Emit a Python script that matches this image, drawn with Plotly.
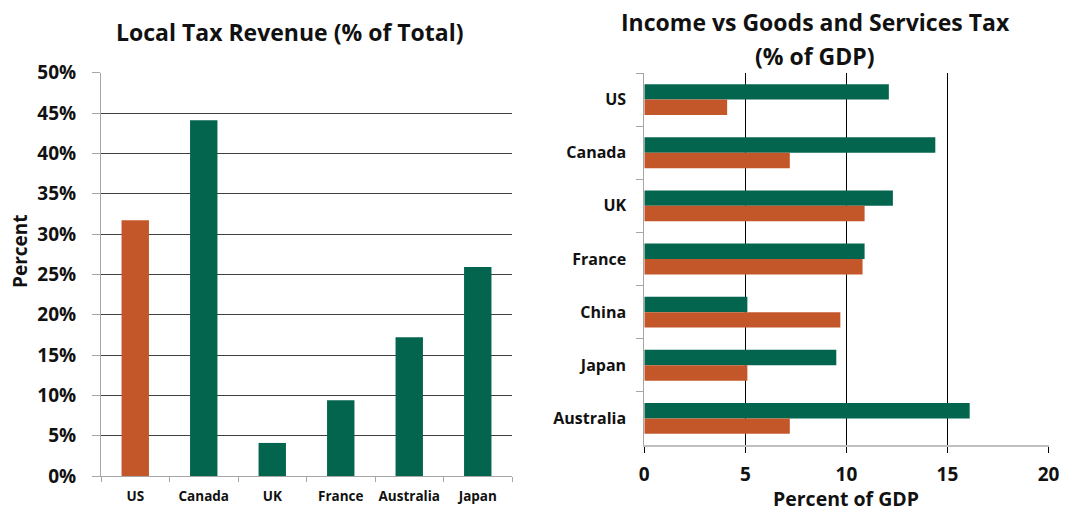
import plotly.graph_objects as go

# Local tax revenue as a share of total tax revenue
local_countries = ["US", "Canada", "UK", "France", "Australia", "Japan"]
local_share = [31.7, 44.1, 4.1, 9.4, 17.2, 25.9]

# Income vs goods and services tax, % of GDP
tax_countries = ["US", "Canada", "UK", "France", "China", "Japan", "Australia"]
income_tax = [12.1, 14.4, 12.3, 10.9, 5.1, 9.5, 16.1]
goods_services_tax = [4.1, 7.2, 10.9, 10.8, 9.7, 5.1, 7.2]

left_ticks = [0, 5, 10, 15, 20, 25, 30, 35, 40, 45, 50]
left_tick_text = [f"{v}%" for v in left_ticks]
right_ticks = [0, 5, 10, 15, 20]

GREEN = "#04654F"
ORANGE = "#C4572A"
FONT = "Open Sans"
INK = "#111111"
W, H = 1065, 510

fig = go.Figure()

fig.add_trace(go.Bar(
    x=local_countries, y=local_share,
    marker=dict(color=[ORANGE if c == "US" else GREEN for c in local_countries], line_width=0),
    width=0.4, xaxis="x", yaxis="y", showlegend=False,
))

fig.add_trace(go.Bar(
    y=tax_countries, x=income_tax, orientation="h",
    marker=dict(color=GREEN, line_width=0),
    width=0.29, offset=-0.29, xaxis="x2", yaxis="y2", showlegend=False,
))
fig.add_trace(go.Bar(
    y=tax_countries, x=goods_services_tax, orientation="h",
    marker=dict(color=ORANGE, line_width=0),
    width=0.29, offset=0.0, xaxis="x2", yaxis="y2", showlegend=False,
))

def px_x(a, b):
    return [a / W, b / W]

def px_y(top, bottom):
    return [(H - bottom) / H, (H - top) / H]

bold = dict(family=FONT, weight="bold", color=INK)


def label(text, x, y, size, **kw):
    return dict(text=f"<b>{text}</b>", x=x / W, y=(H - y) / H,
                xref="paper", yref="paper", showarrow=False,
                xanchor="center", yanchor=kw.pop("yanchor", "middle"),
                font=dict(size=size, family=FONT, color=INK), **kw)


fig.update_layout(
    width=W, height=H,
    margin=dict(l=0, r=0, t=0, b=0, autoexpand=False),
    paper_bgcolor="white", plot_bgcolor="white",
    barmode="overlay",
    font=dict(family=FONT, color=INK),
    xaxis=dict(
        domain=px_x(101, 512), type="category", automargin=False,
        showline=True, linecolor="#a6a6a6", linewidth=1,
        ticks="outside", tickson="boundaries", ticklen=5, tickcolor="#a6a6a6",
        tickfont=dict(size=13.5, **bold), tickangle=0,
        ticklabelstandoff=8,
        showgrid=False, fixedrange=True,
    ),
    yaxis=dict(
        domain=px_y(72.7, 476), range=[0, 50], automargin=False,
        tickvals=left_ticks, ticktext=left_tick_text,
        showline=True, linecolor="#a6a6a6", linewidth=1,
        ticks="outside", ticklen=8, tickcolor="#a6a6a6",
        showgrid=True, gridcolor="#404040", gridwidth=1,
        zeroline=False,
        tickfont=dict(size=19, **bold),
        ticklabelstandoff=12,
    ),
    xaxis2=dict(
        domain=px_x(644.3, 1048.5), range=[0, 20], anchor="y2", automargin=False,
        tickvals=right_ticks,
        showline=True, linecolor="#bfbfbf", linewidth=2,
        ticks="outside", ticklen=6, tickcolor="#000000",
        showgrid=True, gridcolor="#000000", gridwidth=1,
        zeroline=False,
        tickfont=dict(size=19, **bold),
        ticklabelstandoff=5,
    ),
    yaxis2=dict(
        domain=px_y(73, 445), anchor="x2", type="category", automargin=False,
        autorange="reversed",
        showline=True, linecolor="#a6a6a6", linewidth=1,
        ticks="outside", tickson="boundaries", ticklen=7, tickcolor="#a6a6a6",
        showgrid=False,
        tickfont=dict(size=16, **bold),
        ticklabelstandoff=14,
    ),
    annotations=[
        label("Local Tax Revenue (% of Total)", 290, 32, 23),
        label("Income vs Goods and Services Tax", 815, 22, 23),
        label("(% of GDP)", 815, 56, 23),
        label("Percent", 20, 251, 19, textangle=-90),
        label("Percent of GDP", 846, 510, 19.5, yanchor="bottom", height=20, valign="middle"),
    ],
)

fig.write_html("out.html")
